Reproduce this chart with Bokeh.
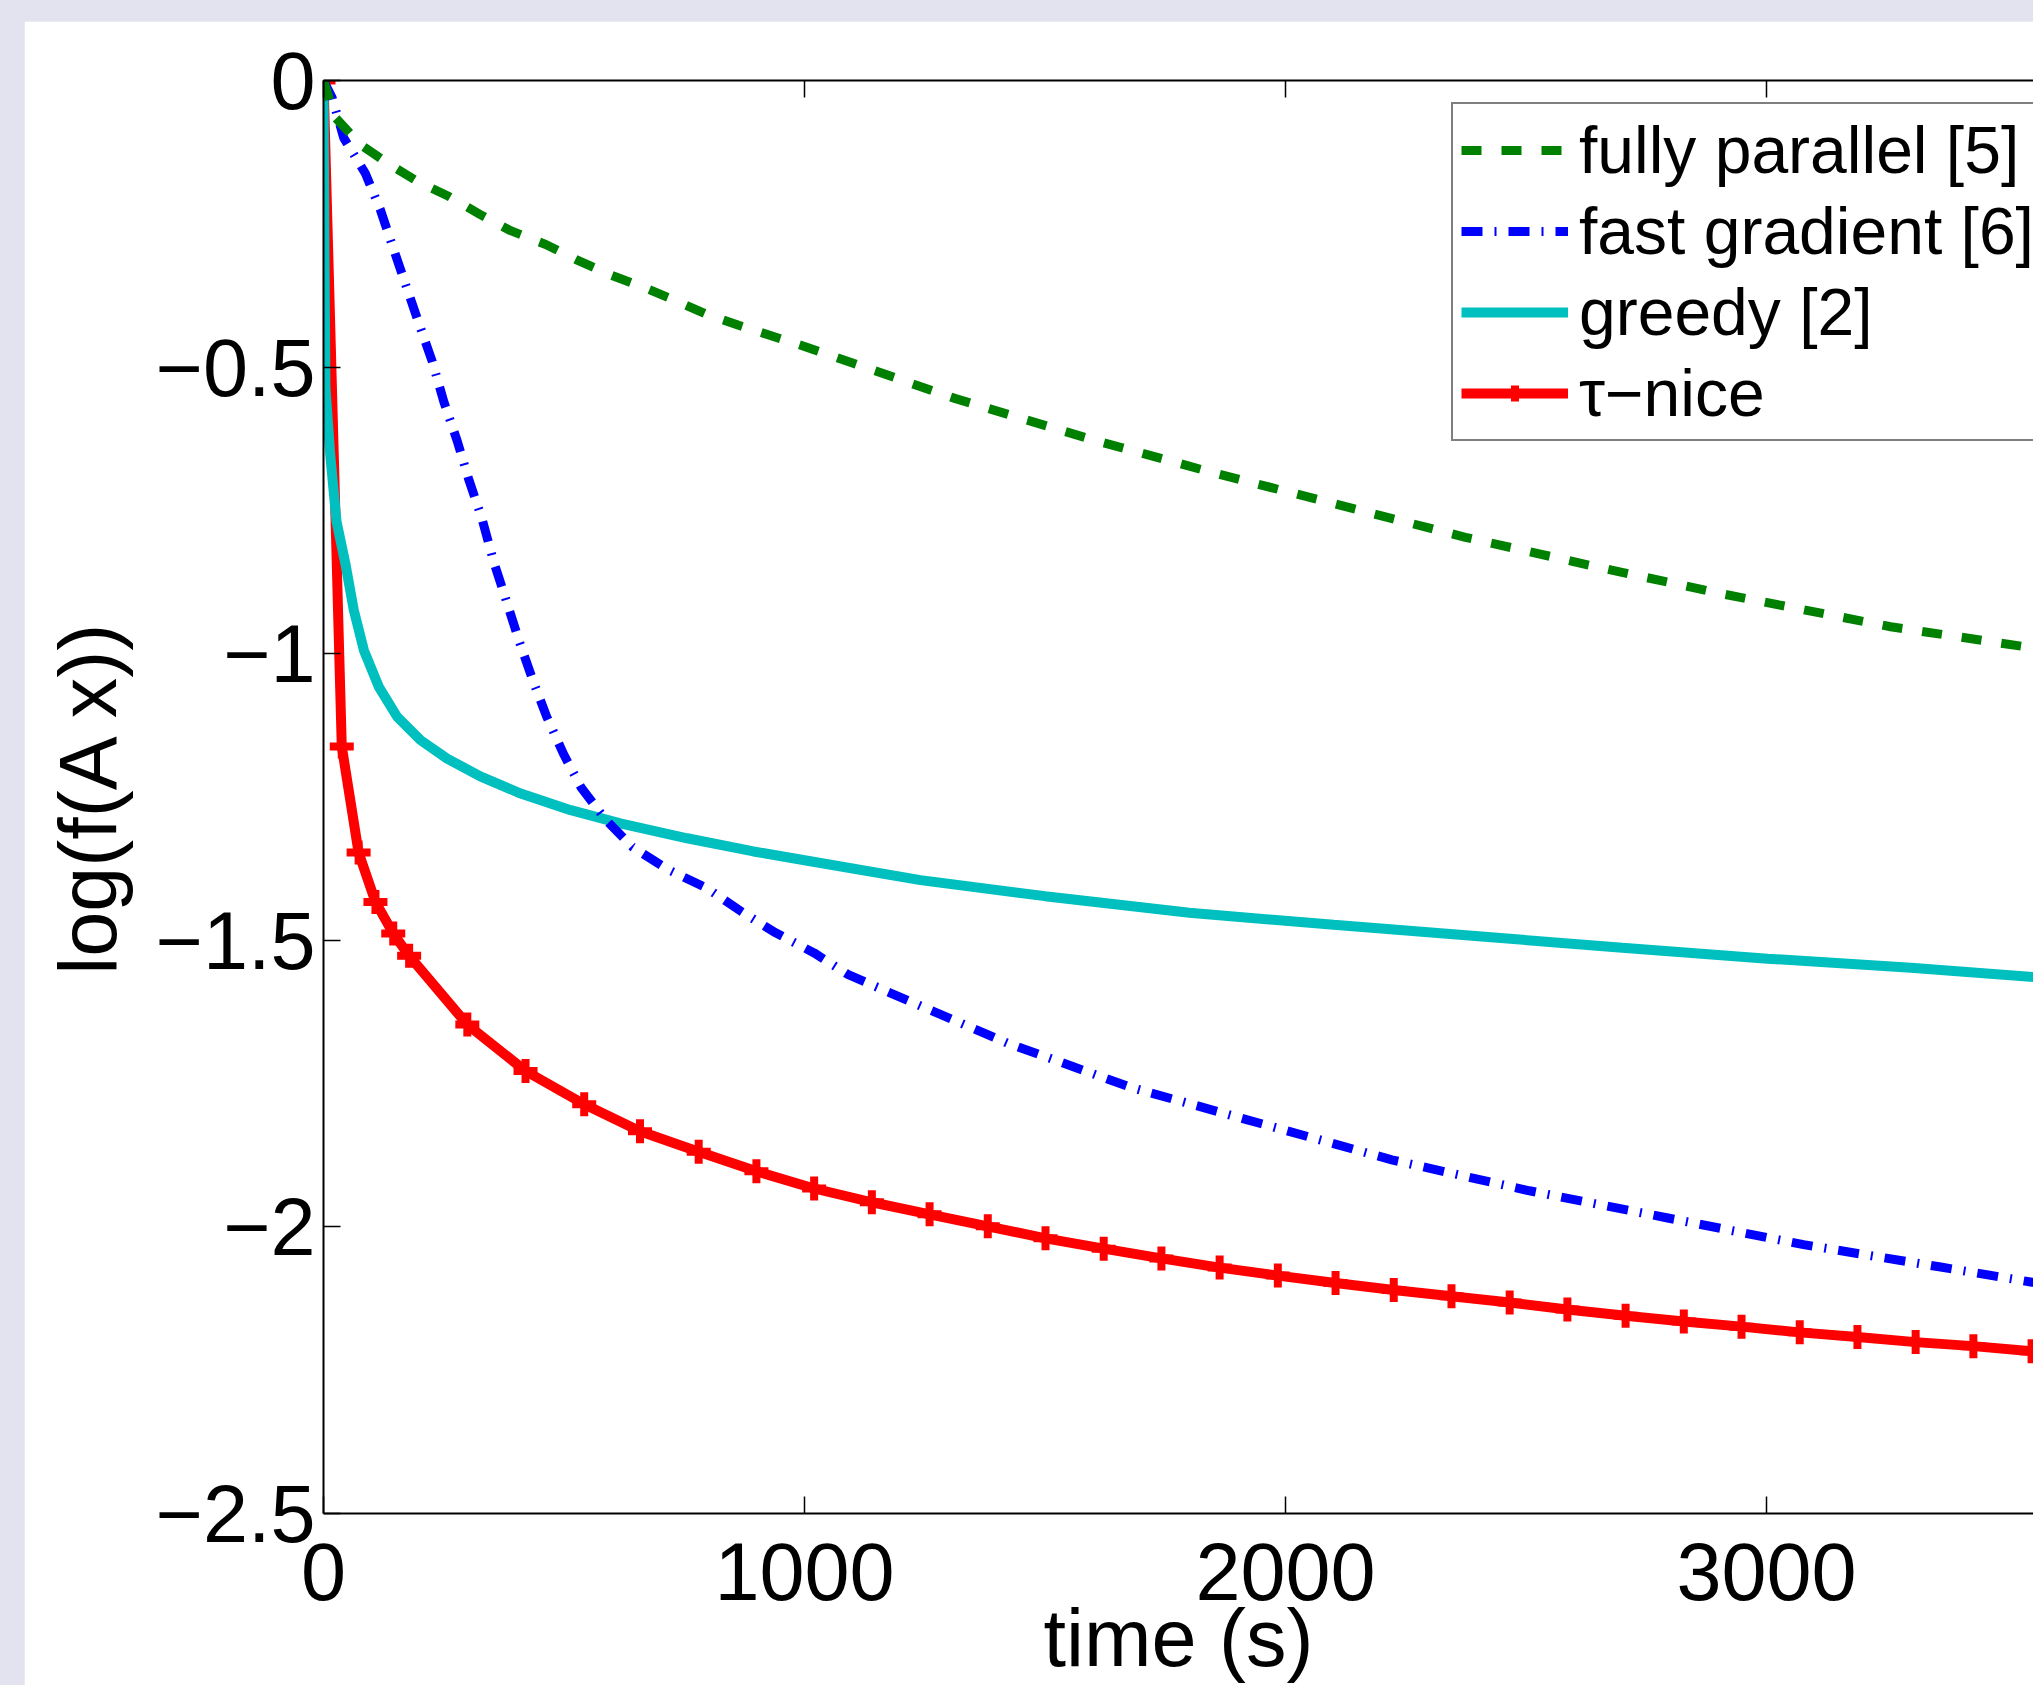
from bokeh.plotting import figure
from bokeh.models import (Range1d, LinearAxis, FixedTicker, Legend, LegendItem,
                          GlobalInlineStyleSheet)
from bokeh.embed import file_html
from bokeh.resources import INLINE

# ---------------- data ----------------
x_ticks = [0, 1000, 2000, 3000]
x_tick_labels = ["0", "1000", "2000", "3000"]
y_ticks = [-2.5, -2.0, -1.5, -1.0, -0.5, 0.0]
y_tick_labels = ["\u22122.5", "\u22122", "\u22121.5", "\u22121", "\u22120.5", "0"]

green_x = [0, 25, 77, 135, 195, 260, 326, 389, 462, 524, 593, 666, 732, 800, 863,
           1000, 1314, 1600, 1844, 2100, 2374, 2650, 2904, 3258, 3555]
green_y = [0, -0.065, -0.112, -0.145, -0.176, -0.202, -0.234, -0.262, -0.286, -0.312,
           -0.338, -0.361, -0.384, -0.409, -0.427, -0.464, -0.555, -0.627, -0.683,
           -0.738, -0.797, -0.849, -0.895, -0.953, -0.990]

blue_x = [0, 18, 42, 87, 118, 146, 174, 198, 226, 250, 278, 302, 330, 354, 378, 406,
          435, 464, 499, 536, 586, 642, 717, 797, 869, 940, 1020, 1091, 1179, 1424,
          1680, 1950, 2221, 2507, 2792, 3077, 3362, 3555]
blue_y = [0, -0.030, -0.100, -0.162, -0.225, -0.295, -0.364, -0.423, -0.490, -0.560,
          -0.629, -0.696, -0.766, -0.840, -0.902, -0.976, -1.046, -1.110, -1.175,
          -1.234, -1.289, -1.337, -1.377, -1.409, -1.450, -1.487, -1.522, -1.560,
          -1.592, -1.680, -1.757, -1.820, -1.883, -1.937, -1.984, -2.031, -2.070, -2.097]

cyan_x = [0, 2, 4, 14, 27, 46, 63, 84, 115, 153, 202, 257, 326, 410, 514, 617, 756,
          894, 1012, 1241, 1500, 1800, 2100, 2401, 2700, 3002, 3300, 3555]
cyan_y = [0, -0.30, -0.535, -0.653, -0.769, -0.845, -0.924, -0.994, -1.058, -1.110,
          -1.151, -1.183, -1.214, -1.244, -1.273, -1.296, -1.322, -1.345, -1.362,
          -1.395, -1.423, -1.452, -1.473, -1.493, -1.513, -1.532, -1.548, -1.564]

red_x = [0, 38, 73, 108, 145, 178, 299, 420, 542, 658, 780, 900, 1020, 1140, 1260,
         1381, 1501, 1622, 1742, 1863, 1984, 2104, 2225, 2345, 2466, 2586, 2707, 2828,
         2948, 3069, 3189, 3310, 3430, 3551]
red_y = [0, -1.162, -1.347, -1.433, -1.488, -1.527, -1.647, -1.728, -1.786, -1.833,
         -1.869, -1.903, -1.933, -1.957, -1.978, -1.999, -2.020, -2.038, -2.055, -2.071,
         -2.085, -2.098, -2.110, -2.121, -2.132, -2.144, -2.155, -2.165, -2.174, -2.184,
         -2.192, -2.201, -2.208, -2.217]

series_labels = ["fully parallel [5]", "fast gradient [6]", "greedy [2]", "\u03c4\u2212nice"]
x_label = "time (s)"
y_label = "log(f(A x))"

# ---------------- figure ----------------
FONT = "Liberation Sans"
page_css = GlobalInlineStyleSheet(css="""
html, body { margin: 0 !important; padding: 0 !important; background-color: #E3E3F0 !important; overflow: hidden; }
body { padding: 21px 0 0 24px !important; }
""")

p = figure(width=2009, height=1664, x_range=Range1d(0, 3555), y_range=Range1d(-2.5, 0),
           output_backend="svg", toolbar_location=None,
           min_border_left=299, min_border_top=59, min_border_bottom=171, min_border_right=0,
           background_fill_color="white", border_fill_color="white",
           stylesheets=[page_css])
p.outline_line_color = None
p.xgrid.visible = False
p.ygrid.visible = False

bottom_axis = p.below[0]
left_axis = p.left[0]
top_axis = LinearAxis()
p.add_layout(top_axis, "above")

for ax in [bottom_axis, left_axis, top_axis]:
    ax.axis_line_width = 2
    ax.axis_line_color = "black"
    ax.major_tick_in = 17
    ax.major_tick_out = 0
    ax.major_tick_line_width = 1.5
    ax.major_tick_line_color = "black"
    ax.minor_tick_line_color = None
    ax.major_label_text_font = FONT
    ax.major_label_text_font_size = "81px"
    ax.major_label_text_color = "black"

bottom_axis.ticker = FixedTicker(ticks=x_ticks, minor_ticks=[])
bottom_axis.major_label_overrides = {t: l for t, l in zip(x_ticks, x_tick_labels)}
bottom_axis.major_label_standoff = 29
bottom_axis.axis_label = x_label
bottom_axis.axis_label_text_font = FONT
bottom_axis.axis_label_text_font_size = "81px"
bottom_axis.axis_label_text_font_style = "normal"
bottom_axis.axis_label_text_color = "black"
bottom_axis.axis_label_standoff = -10

top_axis.ticker = FixedTicker(ticks=x_ticks, minor_ticks=[])
top_axis.major_label_text_font_size = "0px"
top_axis.major_label_text_alpha = 0
top_axis.major_label_standoff = 0

left_axis.ticker = FixedTicker(ticks=y_ticks, minor_ticks=[])
left_axis.major_label_overrides = {t: l for t, l in zip(y_ticks, y_tick_labels)}
left_axis.major_label_standoff = 8
left_axis.axis_label = y_label
left_axis.axis_label_text_font = FONT
left_axis.axis_label_text_font_size = "81px"
left_axis.axis_label_text_font_style = "normal"
left_axis.axis_label_text_color = "black"
left_axis.axis_label_standoff = 20

# ---------------- series ----------------
r_red = p.line(red_x, red_y, line_color="#FF0000", line_width=10)
r_red_m = p.scatter(red_x, red_y, marker="cross", size=24, line_color="#FF0000",
                    line_width=8)
r_cyan = p.line(cyan_x, cyan_y, line_color="#00BFBF", line_width=10)
r_blue = p.line(blue_x, blue_y, line_color="#0000FF", line_width=9,
                line_dash="21 12 2 12")
r_green = p.line(green_x, green_y, line_color="#008000", line_width=9,
                 line_dash="20 20")

legend = Legend(items=[
    LegendItem(label=series_labels[0], renderers=[r_green]),
    LegendItem(label=series_labels[1], renderers=[r_blue]),
    LegendItem(label=series_labels[2], renderers=[r_cyan]),
    LegendItem(label=series_labels[3], renderers=[r_red, r_red_m]),
], location=(1128, 1072))
legend.margin = 0
legend.padding = 8
legend.spacing = 5
legend.glyph_width = 107
legend.glyph_height = 40
legend.label_height = 40
legend.label_standoff = 11
legend.label_text_font = FONT
legend.label_text_font_size = "66px"
legend.label_text_color = "black"
legend.border_line_color = "black"
legend.border_line_width = 2
legend.background_fill_color = "white"
legend.background_fill_alpha = 1
p.add_layout(legend, "center")

open("out.html", "w").write(file_html(p, INLINE))
